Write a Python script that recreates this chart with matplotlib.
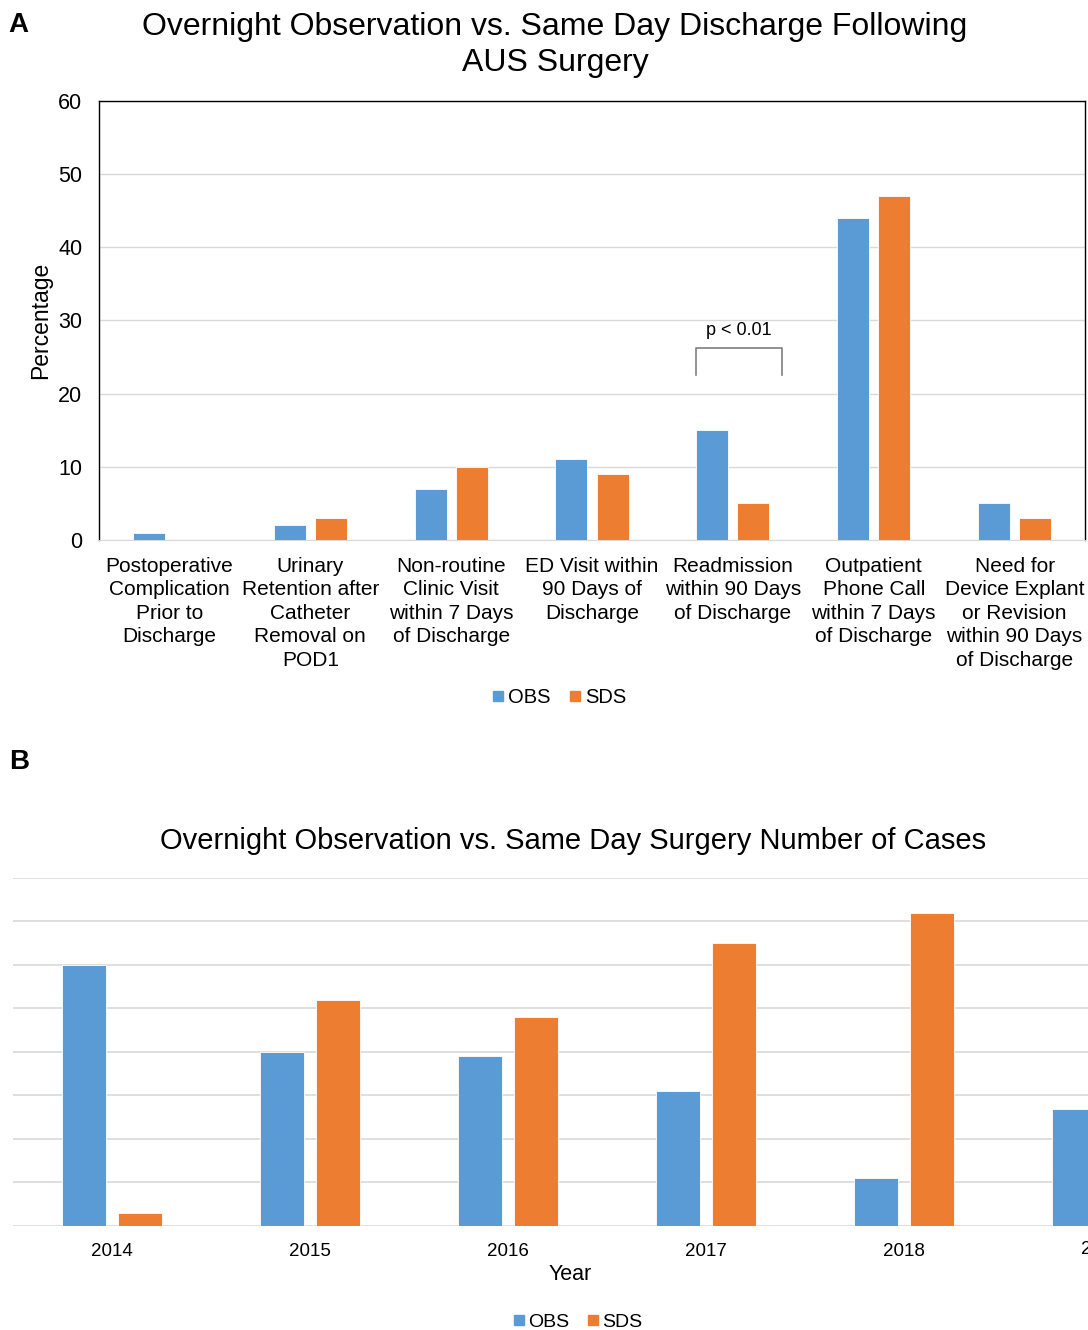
"""Two-panel bar chart: AUS surgery outcomes (A) and case counts per year (B)."""

import matplotlib

matplotlib.use("Agg")
import matplotlib.pyplot as plt
import numpy as np
from matplotlib.lines import Line2D

plt.rcParams["font.family"] = ["Liberation Sans", "DejaVu Sans"]

BLUE = "#5B9BD5"
ORANGE = "#ED7D31"
GRID = "#D9D9D9"

# --- panel A data (percent) ---
outcomes = [
    "Postoperative\nComplication\nPrior to\nDischarge",
    "Urinary\nRetention after\nCatheter\nRemoval on\nPOD1",
    "Non-routine\nClinic Visit\nwithin 7 Days\nof Discharge",
    "ED Visit within\n90 Days of\nDischarge",
    "Readmission\nwithin 90 Days\nof Discharge",
    "Outpatient\nPhone Call\nwithin 7 Days\nof Discharge",
    "Need for\nDevice Explant\nor Revision\nwithin 90 Days\nof Discharge",
]
obs_pct = [1, 2, 7, 11, 15, 44, 5]
sds_pct = [0, 3, 10, 9, 5, 47, 3]

# --- panel B data (cases; 2019 SDS falls outside the cropped view) ---
years = ["2014", "2015", "2016", "2017", "2018", "2019"]
obs_cases = [60, 40, 39, 31, 11, 27]
sds_cases = [3, 52, 48, 65, 72, np.nan]

fig = plt.figure(figsize=(10.88, 13.30), dpi=100)

# ---------------- Panel A ----------------
ax = fig.add_axes([0.0910, 0.5940, 0.9063, 0.3301])
x = np.arange(len(outcomes))
w, off = 0.227, 0.146
ax.bar(x - off, obs_pct, w, color=BLUE, edgecolor="white", linewidth=0.6, zorder=3)
ax.bar(x + off, sds_pct, w, color=ORANGE, edgecolor="white", linewidth=0.6, zorder=3)
ax.set_xlim(-0.5, len(outcomes) - 0.5)
ax.set_ylim(0, 60)
ax.set_yticks(range(0, 61, 10))
ax.yaxis.grid(True, color=GRID, linewidth=1, zorder=0)
ax.tick_params(axis="y", length=0, pad=12, labelsize=15.5)
ax.set_xticks(x)
ax.set_xticklabels(outcomes, fontsize=15)
for t in ax.get_xticklabels():
    t.set_linespacing(1.3)
ax.tick_params(axis="x", length=0, pad=12)
for s in ["left", "top", "right"]:
    ax.spines[s].set_color("black")
    ax.spines[s].set_linewidth(1)
ax.spines["bottom"].set_color(GRID)

fig.text(41 / 1088, 1 - 320 / 1330, "Percentage", rotation=90, ha="center",
         va="center", fontsize=16.5)
fig.text(555 / 1088, 1 - 45 / 1330,
         "Overnight Observation vs. Same Day Discharge Following\nAUS Surgery",
         ha="center", va="center", fontsize=23, linespacing=1.27)

# significance bracket over readmission
bx0, bx1, btop, bbot = 3.74, 4.35, 26.3, 22.6
ax.plot([bx0, bx0, bx1, bx1], [bbot, btop, btop, bbot], color="#7F7F7F", lw=1.2,
        zorder=4, solid_joinstyle="round")
ax.text((bx0 + bx1) / 2, btop + 1.2, "p < 0.01", ha="center", va="bottom", fontsize=13)

handles = [Line2D([], [], marker="s", ls="", color=BLUE, markersize=7),
           Line2D([], [], marker="s", ls="", color=ORANGE, markersize=7)]
fig.legend(handles, ["OBS", "SDS"], loc="center", bbox_to_anchor=(0.513, 0.4755),
           ncol=2, frameon=False, fontsize=14.5, handletextpad=0.1, columnspacing=0.8,
           handlelength=0.8)

fig.text(0.008, 0.981, "A", fontsize=20, fontweight="bold", va="center")
fig.text(0.008, 0.427, "B", fontsize=20, fontweight="bold", va="center")

# ---------------- Panel B ----------------
bx = fig.add_axes([0.01195, 0.0782, 0.988, 0.2617])
xb = np.arange(len(years))
wb, offb = 0.222, 0.141
bx.bar(xb - offb, obs_cases, wb, color=BLUE, edgecolor="white", linewidth=0.6, zorder=3)
bx.bar(xb + offb, sds_cases, wb, color=ORANGE, edgecolor="white", linewidth=0.6, zorder=3)
bx.set_xlim(-0.5, -0.5 + 1075 / 198)
bx.set_ylim(0, 80)
bx.set_yticks(range(0, 81, 10))
bx.set_yticklabels([])
bx.tick_params(axis="y", length=0)
bx.yaxis.grid(True, color=GRID, linewidth=1.2, zorder=0)
for s in bx.spines.values():
    s.set_visible(False)
bx.set_xticks(xb[:-1])
bx.set_xticklabels(years[:-1], fontsize=13.5)
bx.tick_params(axis="x", length=0, pad=12)
# last year label runs off the right edge of the figure
bx.text(xb[-1], -3.5, years[-1], ha="center", va="top", fontsize=13.5, clip_on=False)
fig.text(570 / 1088, 1 - 1274 / 1330, "Year", ha="center", va="center", fontsize=15.5)
fig.text(573 / 1088, 1 - 841 / 1330,
         "Overnight Observation vs. Same Day Surgery Number of Cases",
         ha="center", va="center", fontsize=21)

fig.legend(handles, ["OBS", "SDS"], loc="center", bbox_to_anchor=(0.530, 0.006),
           ncol=2, frameon=False, fontsize=14, handletextpad=0.1, columnspacing=0.8,
           handlelength=0.8)

fig.savefig("out.png", dpi=100)
